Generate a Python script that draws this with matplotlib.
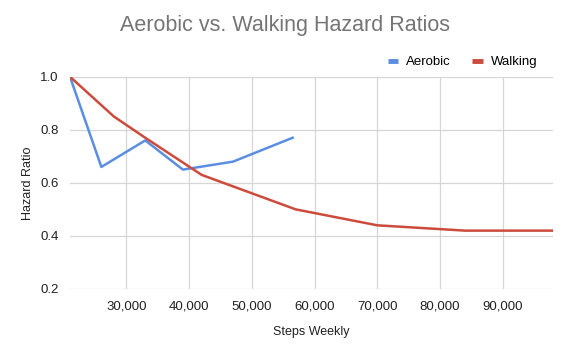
"""Aerobic vs. walking hazard ratios, Google-Sheets style line chart."""

import matplotlib
matplotlib.use("Agg")
import matplotlib.pyplot as plt
from matplotlib.ticker import FuncFormatter

plt.rcParams["font.family"] = ["Liberation Sans", "DejaVu Sans"]

COLOR_AEROBIC = "#5b8ee0"
COLOR_WALKING = "#cc4b3c"
GRID = "#d6d6d6"

aerobic_steps = [21000, 26000, 33000, 39000, 47000, 56500]
aerobic_hr = [1.0, 0.66, 0.76, 0.65, 0.68, 0.77]

walking_steps = [21000, 28000, 33000, 42000, 57000, 70000, 84000, 98000]
walking_hr = [1.0, 0.85, 0.77, 0.63, 0.50, 0.44, 0.42, 0.42]

x_ticks = [30000, 40000, 50000, 60000, 70000, 80000, 90000]
y_ticks = [0.2, 0.4, 0.6, 0.8, 1.0]

fig = plt.figure(figsize=(5.7, 3.52), dpi=100)
ax = fig.add_axes([0.1228, 0.179, 0.8472, 0.603])

ax.plot(aerobic_steps, aerobic_hr, color=COLOR_AEROBIC, lw=1.8, label="Aerobic", zorder=3)
ax.plot(walking_steps, walking_hr, color=COLOR_WALKING, lw=1.8, label="Walking", zorder=3)

ax.set_xlim(21000, 98000)
ax.set_ylim(0.2, 1.0)
ax.set_xticks(x_ticks)
ax.set_yticks(y_ticks)
ax.xaxis.set_major_formatter(FuncFormatter(lambda v, _: f"{int(v):,}"))
ax.yaxis.set_major_formatter(FuncFormatter(lambda v, _: f"{v:.1f}"))
ax.grid(True, color=GRID, lw=0.9)
ax.set_axisbelow(True)
for s in ax.spines.values():
    s.set_visible(False)
ax.tick_params(length=0, labelsize=9.5, colors="#222222", pad=8)

ax.set_xlabel("Steps Weekly", fontsize=9, color="#222222", labelpad=10)
ax.set_ylabel("Hazard Ratio", fontsize=9, color="#222222")
ax.yaxis.set_label_coords(-0.075, 0.5)

fig.text(0.5, 0.928, "Aerobic vs. Walking Hazard Ratios", ha="center", va="center",
         fontsize=15.5, color="#757575")

leg = ax.legend(loc="lower right", bbox_to_anchor=(0.985, 1.0), ncol=2, frameon=False,
                fontsize=9.5, handlelength=0.8, handletextpad=0.6, columnspacing=1.6,
                borderaxespad=0.25)
for line in leg.get_lines():
    line.set_linewidth(3.5)
    line.set_solid_capstyle("butt")

fig.savefig("out.png", dpi=100, facecolor="white")
